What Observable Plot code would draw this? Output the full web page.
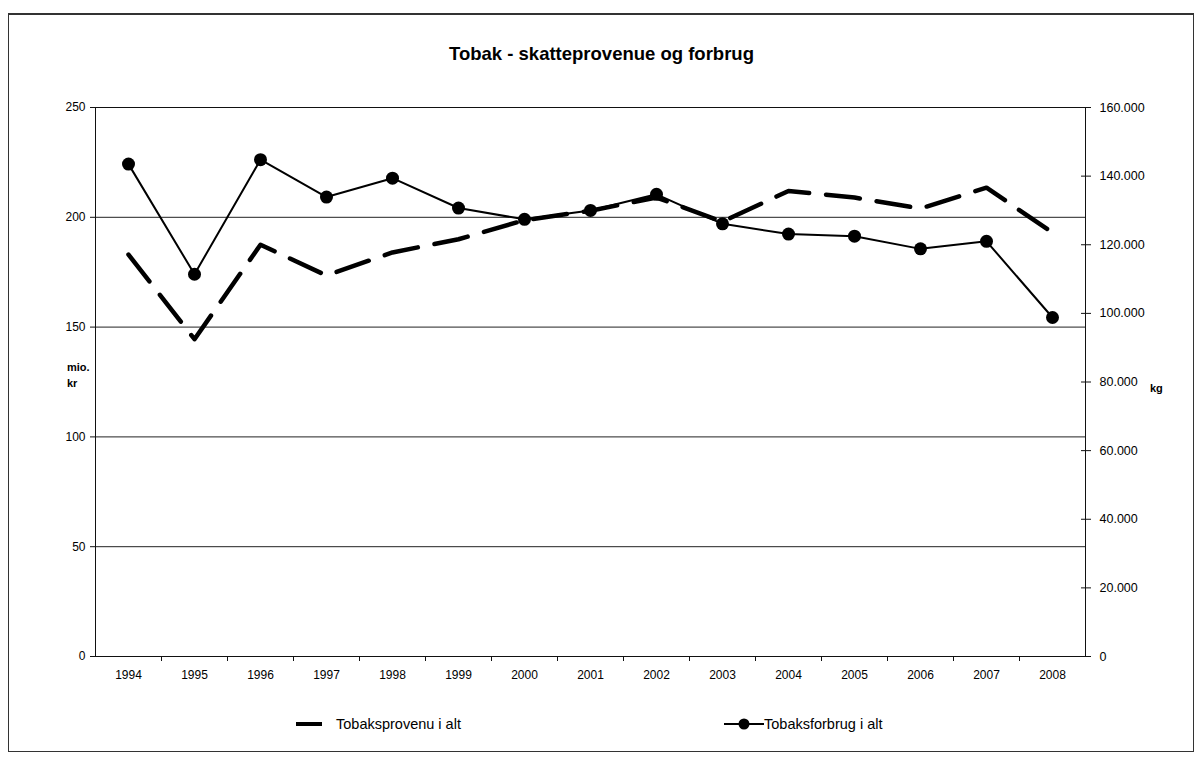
<!DOCTYPE html>
<html>
<head>
<meta charset="utf-8">
<script src="https://cdn.jsdelivr.net/npm/d3@7"></script>
<script src="https://cdn.jsdelivr.net/npm/@observablehq/plot@0.6"></script>
<style>
  html, body { margin: 0; padding: 0; background: #fff; }
  body { width: 1201px; height: 759px; position: relative; overflow: hidden;
         font-family: "Liberation Sans", Arial, sans-serif; color: #000; }
  #frame { position: absolute; left: 8px; top: 13px; width: 1186px; height: 739px;
           border: 1px solid #333; border-top-width: 2px; box-sizing: border-box; }
  #title { position: absolute; left: 0; width: 1203px; top: 43px; text-align: center;
           font-weight: bold; font-size: 18.5px; }
  #chart { position: absolute; left: 0; top: 80px; }
  .unit { position: absolute; font-weight: bold; font-size: 11px; line-height: 16px; }
  .leg { position: absolute; top: 716px; font-size: 14.5px; display: flex; align-items: center; }
</style>
</head>
<body>
<div id="frame"></div>
<div id="title">Tobak - skatteprovenue og forbrug</div>
<div id="chart"></div>
<div class="unit" style="left:67px; top:359px;">mio.<br>kr</div>
<div class="unit" style="left:1150px; top:380px;">kg</div>
<div class="leg" style="left:296px;">
  <svg width="28" height="16"><line x1="0" x2="26" y1="8" y2="8" stroke="#000" stroke-width="4"/></svg>
  <span style="margin-left:12px;">Tobaksprovenu i alt</span>
</div>
<div class="leg" style="left:724px;">
  <svg width="40" height="16"><line x1="0" x2="40" y1="8" y2="8" stroke="#000" stroke-width="2"/><circle cx="20" cy="8" r="5.5" fill="#000"/></svg>
  <span>Tobaksforbrug i alt</span>
</div>
<script>
// ---- data ----
const years = [1994, 1995, 1996, 1997, 1998, 1999, 2000, 2001, 2002, 2003, 2004, 2005, 2006, 2007, 2008];
// Tobaksprovenu i alt (mio. kr, left axis)
const provenu = [183, 144.5, 187.5, 173.5, 184, 190, 198.7, 203, 209, 198, 212, 209, 204, 213.5, 193];
// Tobaksforbrug i alt (kg, right axis)
const forbrug = [143500, 111400, 144800, 133900, 139400, 130700, 127400, 130000, 134700, 126100, 123100, 122500, 118800, 121000, 98800];
const leftTicks = [0, 50, 100, 150, 200, 250];
const rightTicks = [0, 20000, 40000, 60000, 80000, 100000, 120000, 140000, 160000];
const leftMax = 250;
const rightMax = 160000;

const toLeft = v => v * leftMax / rightMax;
const toRight = v => v * rightMax / leftMax;
const rows = years.map((y, i) => ({ year: y, provenu: provenu[i], forbrug: toLeft(forbrug[i]) }));
const boundaries = years.slice(0, -1).map(y => y + 0.5);
const kgFmt = d3.formatLocale({ decimal: ",", thousands: ".", grouping: [3], currency: ["", ""] }).format(",");

const chart = Plot.plot({
  width: 1201,
  height: 620,
  marginLeft: 95,
  marginRight: 116,
  marginTop: 27,
  marginBottom: 44,
  style: { fontFamily: '"Liberation Sans", Arial, sans-serif', fontSize: "12px", color: "#000", background: "transparent" },
  x: { type: "linear", domain: [years[0] - 0.5, years[years.length - 1] + 0.5] },
  y: { domain: [0, leftMax] },
  marks: [
    Plot.ruleY(leftTicks, { stroke: "#222", strokeWidth: 1 }),
    Plot.frame({ stroke: "#111", strokeWidth: 1 }),
    Plot.axisY({ anchor: "left", ticks: leftTicks, tickSize: 5, tickPadding: 5, label: null, stroke: "#111" }),
    Plot.axisY({ anchor: "right", ticks: rightTicks.map(toLeft), tickSize: 5, tickPadding: 9, fontSize: 12.5,
                 tickFormat: d => kgFmt(Math.round(toRight(d))), label: null, stroke: "#111" }),
    Plot.axisY({ anchor: "left", ticks: rightTicks.map(toLeft), tickSize: 4, tickFormat: () => "",
                 label: null, stroke: "#111", dx: 990 }),
    Plot.axisX({ ticks: years, tickSize: 0, tickPadding: 14, tickFormat: d => String(d), label: null }),
    Plot.axisX({ ticks: boundaries, tickSize: 5, tickFormat: () => "", label: null, stroke: "#111" }),
    Plot.line(rows, { x: "year", y: "provenu", stroke: "#000", strokeWidth: 4.5, strokeDasharray: "34,17" }),
    Plot.line(rows, { x: "year", y: "forbrug", stroke: "#000", strokeWidth: 2 }),
    Plot.dot(rows, { x: "year", y: "forbrug", r: 6.5, fill: "#000", stroke: "none" })
  ]
});
document.getElementById("chart").appendChild(chart);
</script>
</body>
</html>
